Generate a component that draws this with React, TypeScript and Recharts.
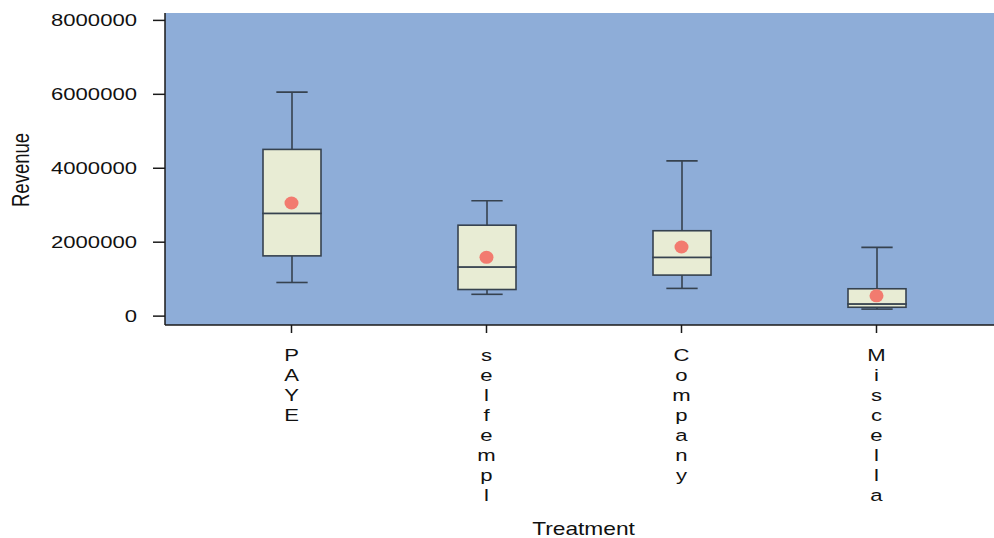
import React from 'react';
import { ComposedChart, Bar, Scatter, XAxis, YAxis, CartesianGrid } from 'recharts';

const categories = ['PAYE', 'selfempl', 'Company', 'Miscella'];
const whiskerLow = [910000, 590000, 750000, 190000];
const q1 = [1630000, 720000, 1110000, 240000];
const medians = [2780000, 1330000, 1590000, 330000];
const q3 = [4510000, 2460000, 2310000, 740000];
const whiskerHigh = [6060000, 3120000, 4200000, 1860000];
const means = [3060000, 1590000, 1870000, 550000];
const yTicks = [0, 2000000, 4000000, 6000000, 8000000];

const data = categories.map((name, i) => ({
  name,
  base: whiskerLow[i],
  lowWhisker: q1[i] - whiskerLow[i],
  lowBox: medians[i] - q1[i],
  highBox: q3[i] - medians[i],
  highWhisker: whiskerHigh[i] - q3[i],
  mean: means[i],
}));

const INK = '#36424f';
const FONT = '"Liberation Sans", Arial, sans-serif';
const STRETCH = 1.3;

const Empty = () => null;

const LowWhisker = (p: any) => {
  const cx = p.x + p.width / 2;
  const cap = p.width * 0.27;
  const bottom = p.y + p.height;
  return (
    <g>
      <line x1={cx} x2={cx} y1={p.y} y2={bottom} stroke={INK} strokeWidth={1.6} />
      <line x1={cx - cap} x2={cx + cap} y1={bottom} y2={bottom} stroke={INK} strokeWidth={1.6} />
    </g>
  );
};

const HighWhisker = (p: any) => {
  const cx = p.x + p.width / 2;
  const cap = p.width * 0.27;
  return (
    <g>
      <line x1={cx} x2={cx} y1={p.y} y2={p.y + p.height} stroke={INK} strokeWidth={1.6} />
      <line x1={cx - cap} x2={cx + cap} y1={p.y} y2={p.y} stroke={INK} strokeWidth={1.6} />
    </g>
  );
};

const BoxPart = (p: any) => (
  <rect x={p.x} y={p.y} width={p.width} height={p.height} fill="#e8ecd4" stroke={INK} strokeWidth={1.6} />
);

const MeanDot = (p: any) => <ellipse cx={p.cx} cy={p.cy} rx={7} ry={6.5} fill="#f27b6f" />;

const YTick = (p: any) => (
  <text
    transform={`translate(${p.x},${p.y}) scale(${STRETCH},1)`}
    textAnchor="end"
    dy={6}
    fontSize={17}
    fontFamily={FONT}
    fill="#111"
  >
    {p.payload.value}
  </text>
);

const XTick = (p: any) => {
  const chars = String(p.payload.value).split('');
  return (
    <g transform={`translate(${p.x},${p.y})`}>
      {chars.map((c, i) => (
        <text
          key={i}
          transform={`translate(0,${28 + i * 20}) scale(${STRETCH},1)`}
          textAnchor="middle"
          fontSize={17}
          fontFamily={FONT}
          fill="#111"
        >
          {c}
        </text>
      ))}
    </g>
  );
};

const YTitle = (p: any) => {
  const vb = p.viewBox;
  return (
    <text
      transform={`translate(29,${vb.y + vb.height / 2 + 1}) scale(${STRETCH},1) rotate(-90)`}
      textAnchor="middle"
      fontSize={18.5}
      fontFamily={FONT}
      fill="#111"
    >
      Revenue
    </text>
  );
};

const XTitle = (p: any) => {
  const vb = p.viewBox;
  return (
    <text
      transform={`translate(${vb.x + vb.width / 2 + 4},535) scale(${STRETCH},1)`}
      textAnchor="middle"
      fontSize={17.5}
      fontFamily={FONT}
      fill="#111"
    >
      Treatment
    </text>
  );
};

export default function App() {
  return (
    <div style={{ position: 'absolute', left: 0, top: 0, background: '#fff' }}>
      <ComposedChart width={994} height={538} data={data} margin={{ top: 13, right: 0, bottom: 0, left: 0 }}>
        <CartesianGrid horizontal={false} vertical={false} fill="#8eadd8" />
        <XAxis
          dataKey="name"
          type="category"
          padding={{ left: 29, right: 20 }}
          height={213}
          tickSize={8}
          tickMargin={0}
          axisLine={{ stroke: '#1a1a1a', strokeWidth: 1.5 }}
          tickLine={{ stroke: '#1a1a1a', strokeWidth: 1.5 }}
          tick={<XTick />}
          interval={0}
          label={<XTitle />}
        />
        <XAxis xAxisId="top" orientation="top" height={0} tick={false} tickLine={false} axisLine={{ stroke: '#1a1a1a', strokeWidth: 1.5 }} />
        <YAxis
          type="number"
          domain={[-240000, 8200000]}
          ticks={yTicks}
          allowDataOverflow
          width={165}
          tickSize={12}
          tickMargin={16}
          axisLine={{ stroke: '#1a1a1a', strokeWidth: 1.5 }}
          tickLine={{ stroke: '#1a1a1a', strokeWidth: 1.5 }}
          tick={<YTick />}
          label={<YTitle />}
        />
        <Bar dataKey="base" stackId="box" barSize={58} shape={<Empty />} isAnimationActive={false} />
        <Bar dataKey="lowWhisker" stackId="box" barSize={58} shape={<LowWhisker />} isAnimationActive={false} />
        <Bar dataKey="lowBox" stackId="box" barSize={58} shape={<BoxPart />} isAnimationActive={false} />
        <Bar dataKey="highBox" stackId="box" barSize={58} shape={<BoxPart />} isAnimationActive={false} />
        <Bar dataKey="highWhisker" stackId="box" barSize={58} shape={<HighWhisker />} isAnimationActive={false} />
        <Scatter dataKey="mean" shape={<MeanDot />} isAnimationActive={false} />
      </ComposedChart>
    </div>
  );
}
